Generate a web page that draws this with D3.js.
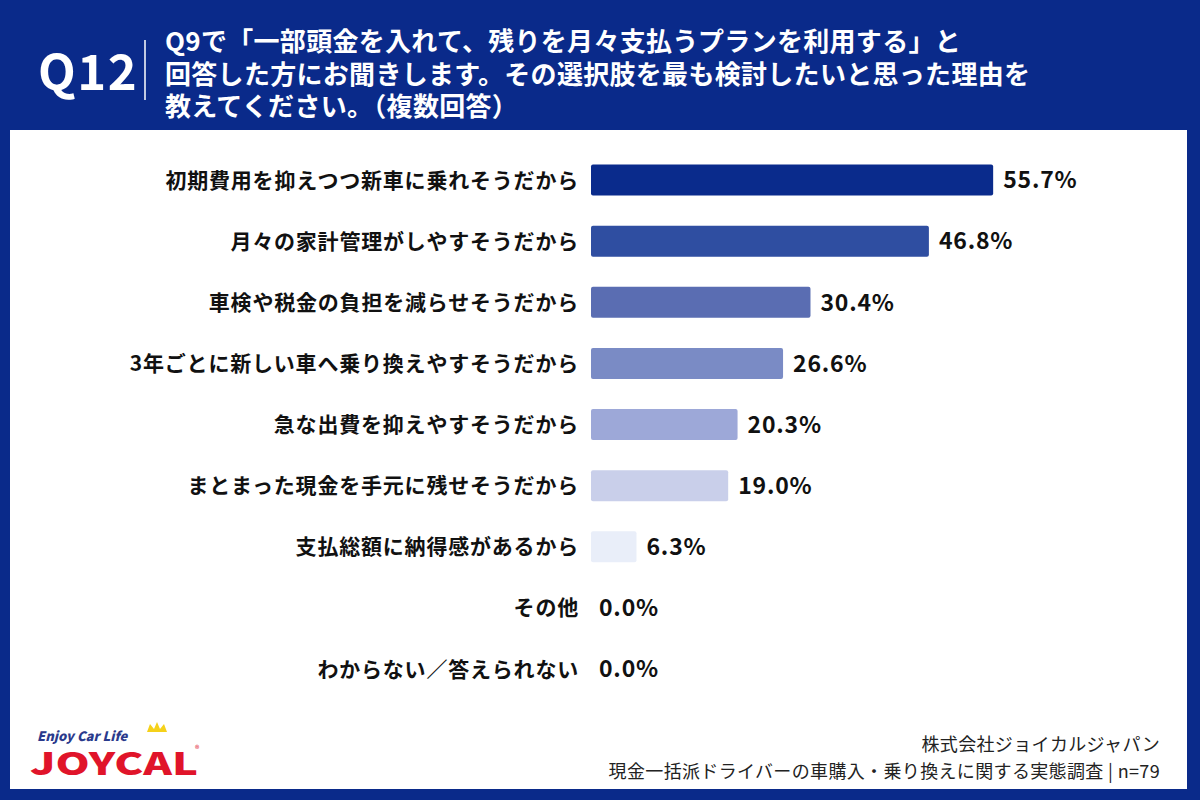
<!DOCTYPE html>
<html><head><meta charset="utf-8">
<script src="https://cdn.jsdelivr.net/npm/d3@7"></script>
<style>
html,body{margin:0;padding:0;background:#0a2a8a;}
svg{display:block;}
text{font-family:"Noto Sans CJK JP","Noto Sans",sans-serif;}
</style></head>
<body>
<svg id="chart" width="1200" height="800"></svg>
<script>
const categories = [
  "初期費用を抑えつつ新車に乗れそうだから",
  "月々の家計管理がしやすそうだから",
  "車検や税金の負担を減らせそうだから",
  "3年ごとに新しい車へ乗り換えやすそうだから",
  "急な出費を抑えやすそうだから",
  "まとまった現金を手元に残せそうだから",
  "支払総額に納得感があるから",
  "その他",
  "わからない／答えられない"
];
const values = [55.7, 46.8, 30.4, 26.6, 20.3, 19.0, 6.3, 0.0, 0.0];
const barColors = ["#0a2b8c", "#2f4ea1", "#5a6db2", "#7a8bc5", "#9da8d8", "#c9cfea", "#e9eef9", "#f2f4fb", "#f2f4fb"];
const titleLines = [
  "Q9で「一部頭金を入れて、残りを月々支払うプランを利用する」と",
  "回答した方にお聞きします。その選択肢を最も検討したいと思った理由を",
  "教えてください。（複数回答）"
];
const qLabel = "Q12";
const footerLines = ["株式会社ジョイカルジャパン", "現金一括派ドライバーの車購入・乗り換えに関する実態調査 | n=79"];

const svg = d3.select("#chart");
svg.append("rect").attr("x",0).attr("y",0).attr("width",1200).attr("height",800).attr("fill","#0a2a8a");
svg.append("rect").attr("x",10).attr("y",130).attr("width",1177).attr("height",659).attr("fill","#ffffff");

// header
svg.append("text").attr("x",38).attr("y",90).attr("fill","#fff")
  .attr("font-size",49).attr("font-weight",700).attr("letter-spacing",1.5)
  .attr("font-family","'Noto Sans','Noto Sans CJK JP',sans-serif").text(qLabel);
svg.append("line").attr("x1",145).attr("x2",145).attr("y1",40).attr("y2",100)
  .attr("stroke","#fff").attr("stroke-width",1.5);
svg.selectAll("text.title").data(titleLines).join("text").attr("class","title")
  .attr("x",165).attr("y",(d,i)=>51+i*32.5).attr("fill","#fff")
  .attr("font-size",26).attr("font-weight",700).attr("letter-spacing",0.3).text(d=>d);

// scales
const x = d3.scaleLinear().domain([0,100]).range([591, 591+722]);
const y = d3.scalePoint().domain(categories).range([180, 669]);
const barH = 31;

const rows = svg.append("g").selectAll("g").data(categories).join("g");
rows.append("rect")
  .attr("x", x(0)).attr("y", d=>y(d)-barH/2)
  .attr("width", (d,i)=>x(values[i])-x(0)).attr("height", barH)
  .attr("rx",2).attr("fill",(d,i)=>barColors[i]);
rows.append("text")
  .attr("x",579).attr("y",d=>y(d)).attr("dy","0.36em")
  .attr("text-anchor","end").attr("font-size",21).attr("font-weight",700).attr("letter-spacing",0.8).attr("fill","#111")
  .text(d=>d);
rows.append("text")
  .attr("x",(d,i)=>x(values[i])+ (values[i]>0?10:8)).attr("y",d=>y(d)).attr("dy","0.36em")
  .attr("font-size",23).attr("font-weight",700).attr("letter-spacing",0.8).attr("fill","#111")
  .attr("font-family","'Noto Sans','Noto Sans CJK JP',sans-serif")
  .text((d,i)=>values[i].toFixed(1)+"%");

// footer
svg.selectAll("text.foot").data(footerLines).join("text").attr("class","foot")
  .attr("x",1160).attr("y",(d,i)=>751+i*27).attr("text-anchor","end")
  .attr("font-size",18).attr("letter-spacing",0.35).attr("fill","#222").text(d=>d);

// logo (approximation)
const logo = svg.append("g");
logo.append("text").attr("x",37).attr("y",741).attr("font-size",13).attr("font-weight",900)
  .attr("font-style","italic").attr("fill","#2a3a8c").attr("font-family","'DejaVu Sans',sans-serif").text("Enjoy Car Life");
logo.append("text").attr("x",30).attr("y",775).attr("font-size",31).attr("font-weight",900)
  .attr("fill","#e0142a").attr("font-family","'DejaVu Sans',sans-serif").attr("textLength",168).attr("lengthAdjust","spacingAndGlyphs").text("JOYCAL");
logo.append("path").attr("d","M147 732 L150 724 L154 729 L157 722 L160 729 L164 724 L167 732 Z").attr("fill","#f5d11a");
logo.append("text").attr("x",195).attr("y",752).attr("font-size",9).attr("fill","#e0142a").text("®");
</script>
</body></html>
